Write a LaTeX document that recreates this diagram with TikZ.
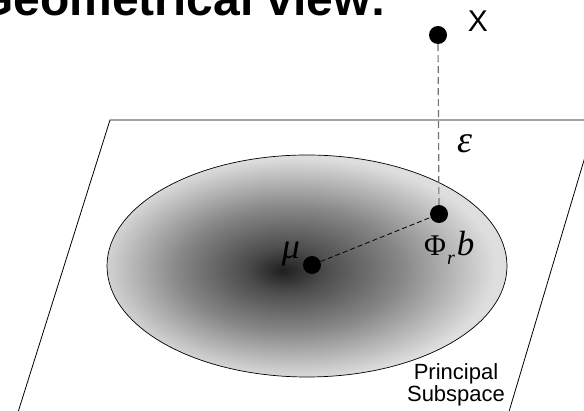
\documentclass[tikz,border=0pt]{standalone}
\usepackage{fontspec}
\setmainfont{Liberation Sans}
\newfontfamily\serifgreek{Liberation Serif}
\usepackage{tikz}
\usetikzlibrary{positioning,calc}

\pgfdeclareradialshading{cloud}{\pgfpoint{-3bp}{-1bp}}{%
  color(0bp)=(black!88); color(5bp)=(black!70); color(14bp)=(black!47);
  color(25bp)=(black!13); color(50bp)=(black!13)}

\begin{document}
\begin{tikzpicture}[
    x=1pt, y=-1pt,
    datapt/.style={circle, fill=black, inner sep=0pt, minimum size=18pt},
    sanslbl/.style={inner sep=0pt, align=center},
    greeklbl/.style={inner sep=0pt, font=\fontsize{36}{36}\serifgreek\itshape},
    residual/.style={dash pattern=on 7pt off 4pt, black!55, line width=1.2pt},
    offset/.style={dash pattern=on 5pt off 3pt, line width=0.8pt}
]

\useasboundingbox (0,0) rectangle (584,411);
\clip (0,0) rectangle (584,411);

% Title
\node[sanslbl, anchor=base west, font=\fontsize{48}{50}\selectfont\bfseries] (title) at (-24,16) {Geometrical view:};

% Principal subspace
\draw[line width=0.8pt] (14,425) -- (110,120) -- (596,120) -- (505,425);
\node[sanslbl, anchor=north, font=\fontsize{22}{22}\selectfont] (subspace) at (456,363) {Principal\\Subspace};

% Data cloud
\shadedraw[shading=cloud, draw=black, line width=0.7pt] (307,266) ellipse [x radius=200, y radius=111];

% Points
\node[datapt] (x) at (438,35) {};
\node[datapt] (proj) at (439,214) {};
\node[datapt] (mean) at (312,265) {};

% Labels
\node[sanslbl, font=\fontsize{30}{30}\selectfont] (xlbl) at (478,21) {X};
\node[greeklbl, font=\fontsize{38}{38}\serifgreek\itshape] (eps) at (465,144) {ε};
\node[greeklbl] (mu) at (291,254) {μ};
\node[greeklbl, anchor=base west, font=\fontsize{30}{30}\serifgreek] (projlbl) at (424,256)
    {Φ\kern1pt\raisebox{-0.3em}{\fontsize{20}{20}\selectfont\itshape r}\kern2pt{\fontsize{35}{35}\selectfont\itshape b}};

% Dashed links
\draw[residual] (x) -- (proj);
\draw[offset] (mean) -- (proj);

\end{tikzpicture}
\end{document}
